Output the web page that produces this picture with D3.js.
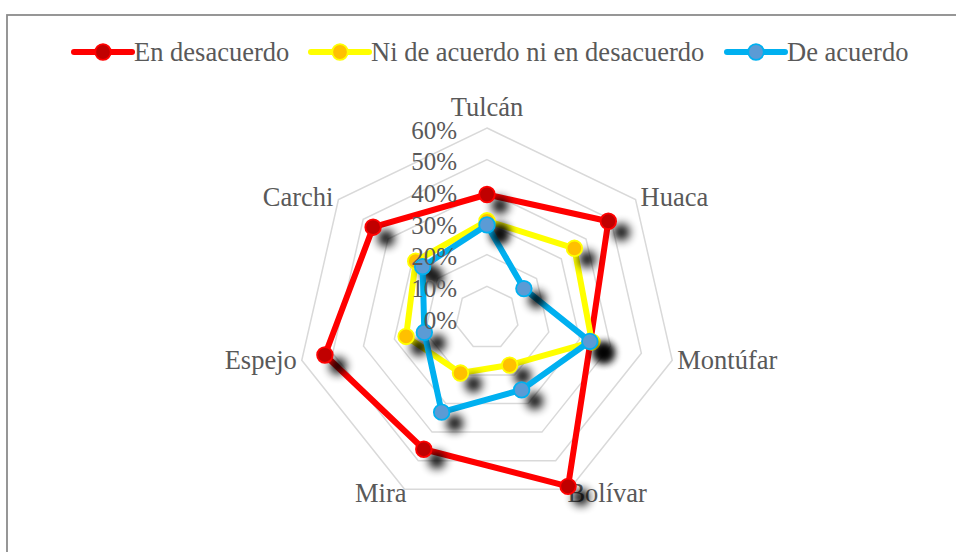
<!DOCTYPE html>
<html><head><meta charset="utf-8">
<script src="https://cdn.jsdelivr.net/npm/d3@7"></script>
<style>body{margin:0;background:#fff}svg{display:block}</style>
</head><body>
<svg id="c" width="956" height="552"></svg>
<script>
const categories = ["Tulcán","Huaca","Montúfar","Bolívar","Mira","Espejo","Carchi"];
const seriesNames = ["En desacuerdo","Ni de acuerdo ni en desacuerdo","De acuerdo"];
const enDesacuerdo = [0.39, 0.49, 0.335, 0.59, 0.46, 0.525, 0.46];
const niAcuerdoNiDesacuerdo = [0.307, 0.353, 0.34, 0.165, 0.193, 0.262, 0.288];
const deAcuerdo = [0.294, 0.149, 0.333, 0.252, 0.33, 0.203, 0.26];
const tickValues = [0, 0.1, 0.2, 0.3, 0.4, 0.5, 0.6];
const tickLabels = ["0%","10%","20%","30%","40%","50%","60%"];

const lineColors = ["#FF0000","#FFFF00","#00B0F0"];
const markerFill = ["#C00000","#FFC000","#5B9BD5"];
const seriesData = [enDesacuerdo, niAcuerdoNiDesacuerdo, deAcuerdo];

const svg = d3.select("#c");
const cx = 487, cy = 318;
const r = d3.scaleLinear().domain([0, 0.6]).range([0, 190]);
const ang = d3.scalePoint().domain(d3.range(categories.length + 1)).range([0, 2*Math.PI]);
const pt = (i, v) => { const a = ang(i); return [cx + r(v)*Math.sin(a), cy - r(v)*Math.cos(a)]; };

const defs = svg.append("defs");
const f = defs.append("filter").attr("id","sh").attr("x","-150%").attr("y","-150%").attr("width","400%").attr("height","400%");
f.append("feGaussianBlur").attr("in","SourceAlpha").attr("stdDeviation",5).attr("result","b");
f.append("feOffset").attr("in","b").attr("dx",13).attr("dy",11).attr("result","o");
f.append("feComponentTransfer").attr("in","o").append("feFuncA").attr("type","linear").attr("slope",0.95);

// frame
svg.append("rect").attr("x",7).attr("y",15).attr("width",960).attr("height",560)
  .attr("fill","#fff").attr("stroke","#8c8c8c").attr("stroke-width",1.8);

// grid rings
const ringLine = d3.line();
tickValues.slice(1).forEach(v => {
  const pts = categories.map((c,i) => pt(i, v));
  svg.append("path").attr("d", ringLine(pts) + "Z")
    .attr("fill","none").attr("stroke","#d9d9d9").attr("stroke-width",1.5);
});

// category labels
const font = "'Liberation Serif','Times New Roman',serif";
categories.forEach((c,i) => {
  const a = ang(i), s = Math.sin(a), co = Math.cos(a);
  const [vx, vy] = pt(i, 0.6);
  let x = vx, y = vy, anchor = "middle";
  if (Math.abs(s) < 0.1) { y = vy - 21; }
  else if (co < -0.8) { anchor = s > 0 ? "start" : "end"; x = vx - 2*Math.sign(s); y = vy + 4; }
  else { anchor = s > 0 ? "start" : "end"; x = vx + 5*Math.sign(s); y = vy - 3*(co>0?1:0); }
  svg.append("text").attr("x",x).attr("y",y).attr("text-anchor",anchor)
    .attr("dominant-baseline","central").attr("font-family",font).attr("font-size",26.5)
    .attr("fill","#595959").text(c);
});

// series
const line = d3.line().curve(d3.curveLinearClosed);
seriesData.forEach((vals, k) => {
  const g = svg.append("g");
  const pts = vals.map((v,i) => pt(i, v));
  g.append("path").attr("d", line(pts)).attr("fill","none")
    .attr("stroke", lineColors[k]).attr("stroke-width",6).attr("stroke-linejoin","round");
  g.selectAll("circle.sh").data(pts).join("circle").attr("cx",d=>d[0]).attr("cy",d=>d[1]).attr("r",8.5)
    .attr("fill","#000").attr("filter","url(#sh)");
  g.selectAll("circle.m").data(pts).join("circle").attr("cx",d=>d[0]).attr("cy",d=>d[1]).attr("r",7.8)
    .attr("fill", markerFill[k]).attr("stroke", lineColors[k]).attr("stroke-width",1.8);
});

// tick labels
tickValues.forEach((v,i) => {
  svg.append("text").attr("x",cx-30).attr("y",cy - r(v) + 2).attr("text-anchor","end")
    .attr("dominant-baseline","central").attr("font-family",font).attr("font-size",25)
    .attr("fill","#595959").text(tickLabels[i]);
});

// legend
const legX = [74, 311, 727];
seriesNames.forEach((n,k) => {
  const x0 = legX[k], y0 = 52;
  svg.append("line").attr("x1",x0).attr("x2",x0+58).attr("y1",y0).attr("y2",y0)
    .attr("stroke",lineColors[k]).attr("stroke-width",6).attr("stroke-linecap","round");
  svg.append("circle").attr("cx",x0+29).attr("cy",y0).attr("r",7.8)
    .attr("fill",markerFill[k]).attr("stroke",lineColors[k]).attr("stroke-width",1.8);
  svg.append("text").attr("x",x0+60).attr("y",y0).attr("dominant-baseline","central")
    .attr("font-family",font).attr("font-size",26.5).attr("fill","#595959").text(n);
});
</script>
</body></html>
